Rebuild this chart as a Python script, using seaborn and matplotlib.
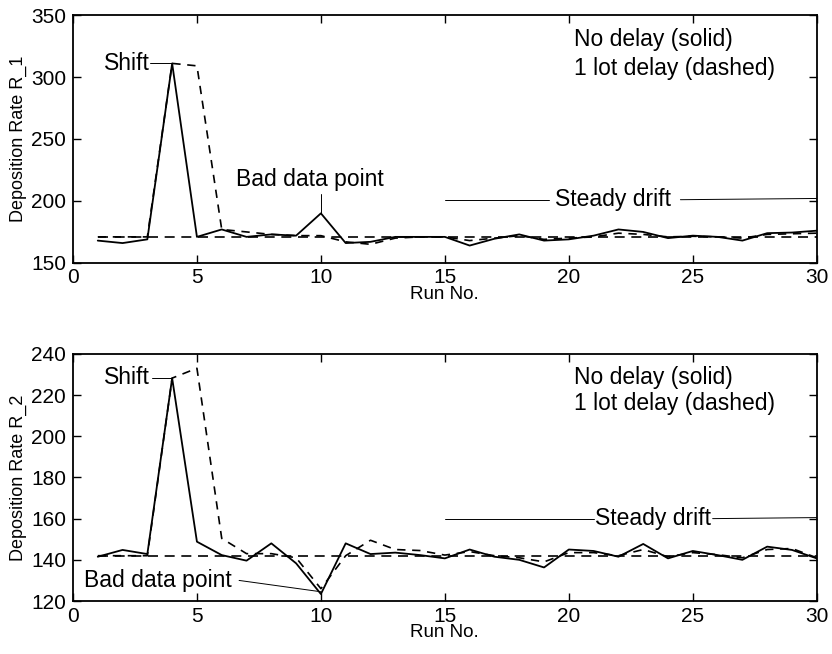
import matplotlib
matplotlib.use("Agg")
import matplotlib.pyplot as plt
import seaborn as sns
import numpy as np

sns.set_style("ticks")
plt.rcParams['font.family'] = ['Liberation Sans', 'DejaVu Sans']
plt.rcParams['text.color'] = 'k'
plt.rcParams['axes.labelcolor'] = 'k'
plt.rcParams['xtick.color'] = 'k'
plt.rcParams['ytick.color'] = 'k'

runs = np.arange(1, 31)

# top panel: deposition rate R_1
r1_nodelay = [168, 166, 169, 311, 171, 177, 171, 173, 172, 190,
              166, 167, 171, 171, 171, 164, 169.5, 173, 168, 169,
              172, 177, 175, 170, 172, 171, 168, 174, 174.5, 176]
r1_delay = [171, 171, 171, 311, 309, 177, 175, 173, 172, 172,
            167, 165, 170, 171, 171, 168, 170, 172, 169, 170,
            171, 174, 173, 171, 171.5, 171, 170, 173, 173.5, 174]
r1_target = 171

# bottom panel: deposition rate R_2
r2_nodelay = [141.5, 144.8, 142.8, 228.2, 148.8, 142.3, 139.6, 148, 138.3, 123.4,
              148, 142.8, 143.5, 142.3, 140.7, 145, 141.5, 140, 136.3, 145,
              144.3, 141.5, 147.7, 140.7, 144.3, 142.3, 140, 146.4, 144.8, 140.7]
r2_delay = [142, 142, 142, 228.2, 233, 150.4, 143, 143, 141, 126,
            142, 149.5, 145, 144.5, 142.3, 144, 142, 141, 139, 143.5,
            143.5, 142, 145, 141.5, 143.5, 142.5, 141, 145, 145.5, 141]
r2_target = 142

fig = plt.figure(figsize=(8.32, 6.54), dpi=100)
ax1 = fig.add_axes([0.0877, 0.598, 0.894, 0.379])
ax2 = fig.add_axes([0.0877, 0.081, 0.894, 0.378])

def draw(ax, solid, dashed, target, ylim, yticks, ylabel):
    sns.lineplot(x=runs, y=solid, ax=ax, color='k', lw=1.3)
    sns.lineplot(x=runs, y=dashed, ax=ax, color='k', lw=1.2, linestyle=(0, (5, 4)))
    ax.plot([runs[0], runs[-1]], [target, target], color='k', lw=1.2, linestyle=(0, (6, 4)))
    ax.set_xlim(0, 30)
    ax.set_ylim(*ylim)
    ax.set_xticks([0, 5, 10, 15, 20, 25, 30])
    ax.set_yticks(yticks)
    ax.tick_params(direction='in', top=True, right=True, labelsize=15, length=6, width=1)
    ax.tick_params(axis='y', pad=5)
    ax.tick_params(axis='x', pad=4)
    for s in ax.spines.values():
        s.set_visible(True)
        s.set_linewidth(1.3)
        s.set_color('k')
    ax.set_xlabel('Run No.', fontsize=13.5, labelpad=-1)
    ax.set_ylabel(ylabel, fontsize=13, labelpad=3)

draw(ax1, r1_nodelay, r1_delay, r1_target, (150, 350), [150, 200, 250, 300, 350], 'Deposition Rate R_1')
draw(ax2, r2_nodelay, r2_delay, r2_target, (120, 240), [120, 140, 160, 180, 200, 220, 240], 'Deposition Rate R_2')

fs = 16.5
# top annotations
ax1.text(3.1, 311, 'Shift', fontsize=fs, ha='right', va='center')
ax1.plot([3.1, 4.0], [311, 311], color='k', lw=0.7)
ax1.text(9.55, 217, 'Bad data point', fontsize=fs, ha='center', va='center')
ax1.plot([10, 10], [206, 190], color='k', lw=0.7)
ax1.text(21.8, 201, 'Steady drift', fontsize=fs, ha='center', va='center')
ax1.plot([15, 19.2], [201, 201], color='k', lw=0.7)
ax1.plot([24.5, 30], [201, 202], color='k', lw=0.7)
ax1.text(20.2, 330, 'No delay (solid)', fontsize=fs, ha='left', va='center')
ax1.text(20.2, 307, '1 lot delay (dashed)', fontsize=fs, ha='left', va='center')

# bottom annotations
ax2.text(3.1, 228.5, 'Shift', fontsize=fs, ha='right', va='center')
ax2.plot([3.2, 4.0], [228.5, 228.5], color='k', lw=0.7)
ax2.text(6.4, 130, 'Bad data point', fontsize=fs, ha='right', va='center')
ax2.plot([6.7, 10], [130, 124.5], color='k', lw=0.7)
ax2.text(23.4, 160, 'Steady drift', fontsize=fs, ha='center', va='center')
ax2.plot([15, 21.0], [160, 160], color='k', lw=0.7)
ax2.plot([25.8, 30], [160, 160.5], color='k', lw=0.7)
ax2.text(20.2, 228.3, 'No delay (solid)', fontsize=fs, ha='left', va='center')
ax2.text(20.2, 216, '1 lot delay (dashed)', fontsize=fs, ha='left', va='center')

fig.savefig('out.png', dpi=100)
